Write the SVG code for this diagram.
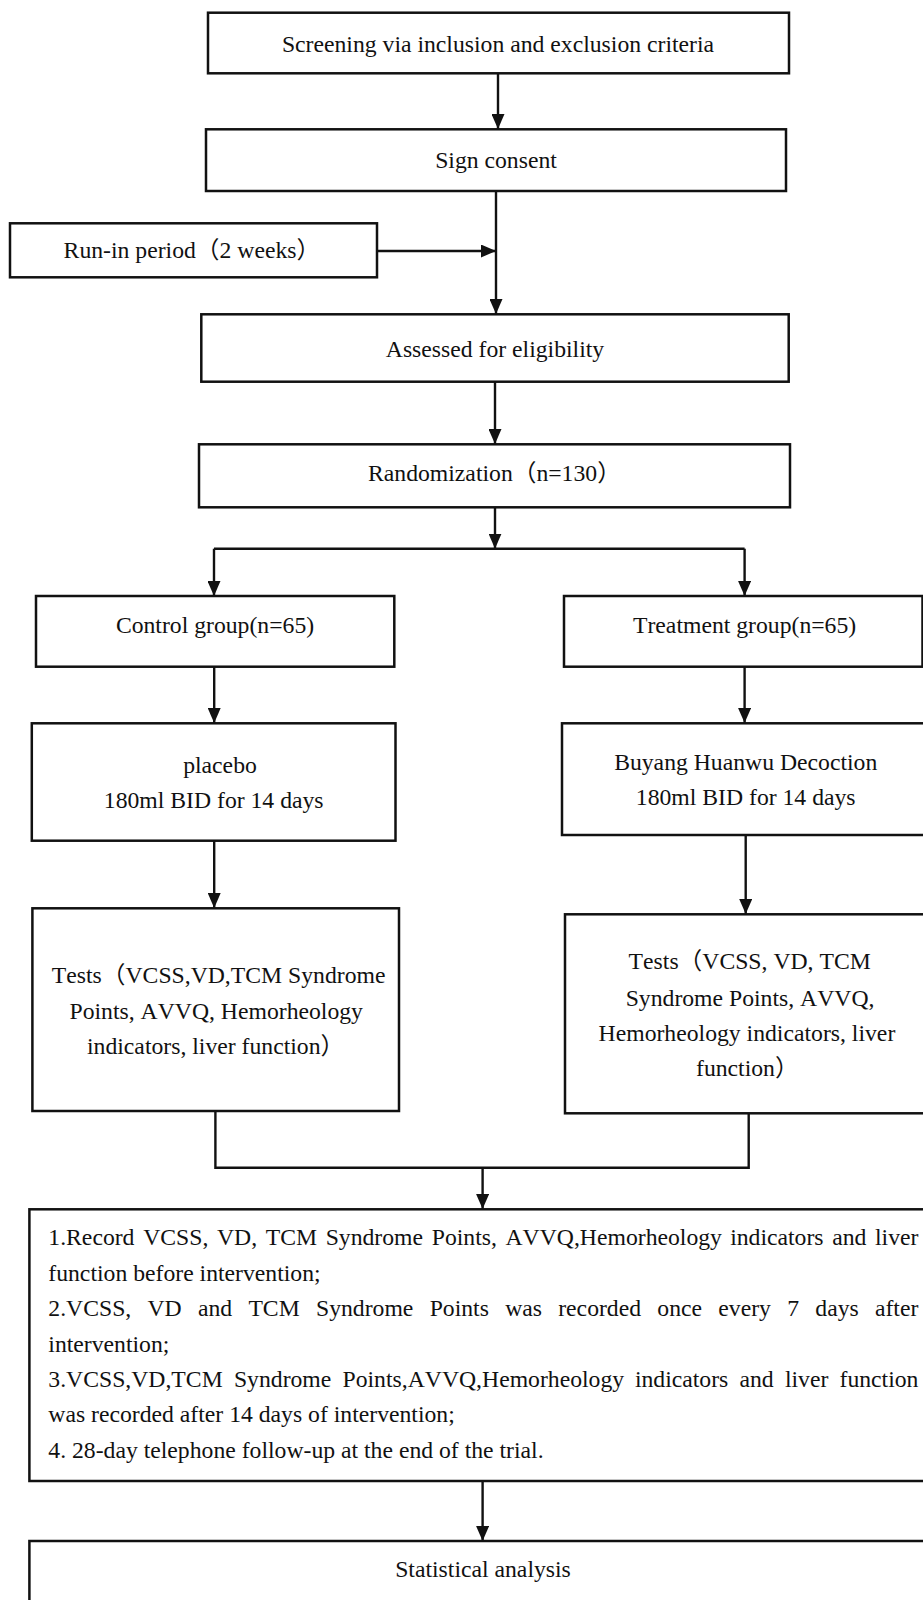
<svg xmlns="http://www.w3.org/2000/svg" width="923" height="1600" viewBox="0 0 923 1600">
<style>
.box{fill:#fff;stroke:#111;stroke-width:2.5}
.t{font-family:"Liberation Serif","Times New Roman","Noto Sans CJK SC",serif;font-size:23.7px;fill:#111;font-kerning:none}
.m{text-anchor:middle}
.c{fill:none;stroke:#111;stroke-width:2.4}
</style>
<defs>
<marker id="ah" markerUnits="userSpaceOnUse" markerWidth="15" markerHeight="13" refX="15" refY="6.5" orient="auto">
<path d="M0,0 L15,6.5 L0,13 z" fill="#111"/>
</marker>
</defs>
<rect width="923" height="1600" fill="#fff"/>
<g id="connectors">
<path class="c" d="M498,73.8 V129" marker-end="url(#ah)"/>
<path class="c" d="M496,191 V314" marker-end="url(#ah)"/>
<path class="c" d="M377.8,251 H496" marker-end="url(#ah)"/>
<path class="c" d="M495,382 V444" marker-end="url(#ah)"/>
<path class="c" d="M495,507.5 V548.7" marker-end="url(#ah)"/>
<path class="c" d="M214,548.7 H744.6"/>
<path class="c" d="M214,548.7 V596" marker-end="url(#ah)"/>
<path class="c" d="M744.6,548.7 V596" marker-end="url(#ah)"/>
<path class="c" d="M214.2,667 V723" marker-end="url(#ah)"/>
<path class="c" d="M744.6,667 V723" marker-end="url(#ah)"/>
<path class="c" d="M214.2,841 V908" marker-end="url(#ah)"/>
<path class="c" d="M745.7,835 V914" marker-end="url(#ah)"/>
<path class="c" d="M215.4,1111 V1167.7 H748.7 V1113.3"/>
<path class="c" d="M482.6,1167.7 V1209" marker-end="url(#ah)"/>
<path class="c" d="M482.6,1481 V1541" marker-end="url(#ah)"/>
</g>
<g id="screening">
<rect class="box" x="208" y="12.7" width="581" height="60.6"/>
<text class="t m" x="498" y="52">Screening via inclusion and exclusion criteria</text>
</g>
<g id="consent">
<rect class="box" x="206" y="129.3" width="580" height="61.7"/>
<text class="t m" x="496" y="168">Sign consent</text>
</g>
<g id="runin">
<rect class="box" x="10" y="223.3" width="367" height="54"/>
<text class="t" x="63.6" y="258.3">Run-in period（2 weeks）</text>
</g>
<g id="assessed">
<rect class="box" x="201.3" y="314.3" width="587.4" height="67.4"/>
<text class="t m" x="495" y="357.3">Assessed for eligibility</text>
</g>
<g id="randomization">
<rect class="box" x="199" y="444.3" width="591" height="63"/>
<text class="t" x="368" y="480.7">Randomization（n=130）</text>
</g>
<g id="control">
<rect class="box" x="36" y="596" width="358.3" height="70.7"/>
<text class="t m" x="215" y="632.7">Control group(n=65)</text>
</g>
<g id="treatment">
<rect class="box" x="564" y="596" width="358.5" height="70.7"/>
<text class="t m" x="744.6" y="632.7">Treatment group(n=65)</text>
</g>
<g id="placebo">
<rect class="box" x="31.8" y="723.3" width="363.7" height="117.4"/>
<text class="t m" x="220" y="772.7">placebo</text>
<text class="t m" x="213.7" y="808.3">180ml BID for 14 days</text>
</g>
<g id="buyang">
<rect class="box" x="562" y="723.3" width="363" height="111.7"/>
<text class="t m" x="745.7" y="770">Buyang Huanwu Decoction</text>
<text class="t m" x="745.7" y="805">180ml BID for 14 days</text>
</g>
<g id="tests-control">
<rect class="box" x="32.4" y="908.3" width="366.6" height="202.7"/>
<text class="t" x="51.8" y="983.3">Tests（VCSS,VD,TCM Syndrome</text>
<text class="t" x="69.5" y="1019.3">Points, AVVQ, Hemorheology</text>
<text class="t" x="87" y="1054">indicators, liver function）</text>
</g>
<g id="tests-treatment">
<rect class="box" x="565" y="914.3" width="360" height="199"/>
<text class="t" x="628.6" y="969.3">Tests（VCSS, VD, TCM</text>
<text class="t" x="625.7" y="1005.7">Syndrome Points, AVVQ,</text>
<text class="t" x="598.6" y="1040.7">Hemorheology indicators, liver</text>
<text class="t" x="696" y="1076">function）</text>
</g>
<g id="records">
<rect class="box" x="29.4" y="1209.3" width="896" height="271.7"/>
<text class="t" y="1245"><tspan x="48.3">1.Record</tspan><tspan x="143.13">VCSS,</tspan><tspan x="216.94">VD,</tspan><tspan x="265.7">TCM</tspan><tspan x="325.67">Syndrome</tspan><tspan x="431.71">Points,</tspan><tspan x="505.52">AVVQ,Hemorheology</tspan><tspan x="730.13">indicators</tspan><tspan x="832.21">and</tspan><tspan x="875.04">liver</tspan></text>
<text class="t" x="48.3" y="1280.5">function before intervention;</text>
<text class="t" y="1316"><tspan x="48.3">2.VCSS,</tspan><tspan x="147.5">VD</tspan><tspan x="197.95">and</tspan><tspan x="248.4">TCM</tspan><tspan x="316">Syndrome</tspan><tspan x="429.65">Points</tspan><tspan x="505.15">was</tspan><tspan x="558.23">recorded</tspan><tspan x="657.36">once</tspan><tspan x="718.34">every</tspan><tspan x="787.21">7</tspan><tspan x="815.29">days</tspan><tspan x="874.96">after</tspan></text>
<text class="t" x="48.3" y="1351.5">intervention;</text>
<text class="t" y="1387"><tspan x="48.3">3.VCSS,VD,TCM</tspan><tspan x="233.94">Syndrome</tspan><tspan x="342.53">Points,AVVQ,Hemorheology</tspan><tspan x="634.89">indicators</tspan><tspan x="739.52">and</tspan><tspan x="784.9">liver</tspan><tspan x="839.5">function</tspan></text>
<text class="t" x="48.3" y="1422">was recorded after 14 days of intervention;</text>
<text class="t" x="48.3" y="1457.5">4. 28-day telephone follow-up at the end of the trial.</text>
</g>
<g id="statistics">
<rect class="box" x="29.4" y="1541" width="900" height="100"/>
<text class="t m" x="483" y="1576.7">Statistical analysis</text>
</g>
</svg>
